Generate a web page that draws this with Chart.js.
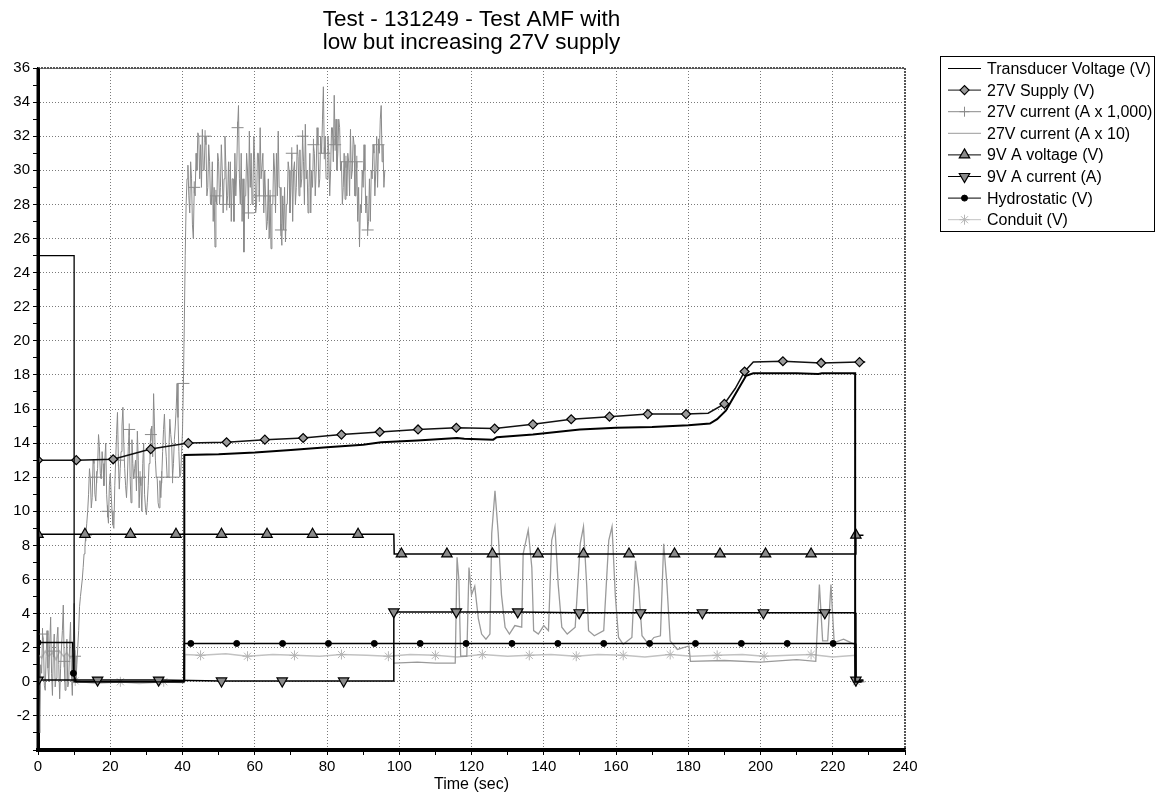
<!DOCTYPE html>
<html>
<head>
<meta charset="utf-8">
<title>Test - 131249 - Test AMF with low but increasing 27V supply</title>
<script src="https://cdn.jsdelivr.net/npm/chart.js@4.4.1/dist/chart.umd.min.js"></script>
<style>
  html, body { margin: 0; padding: 0; background: #fff; }
  #wrap { position: relative; width: 1159px; height: 802px; }
</style>
</head>
<body>
<div id="wrap"><canvas id="myChart" width="1159" height="802"></canvas></div>
<script>
// --- chart data ---
const chartTitle = ['Test - 131249 - Test AMF with', 'low but increasing 27V supply'];
const xAxisTitle = 'Time (sec)';

// Transducer Voltage (V)
const transducerTime = [0, 10, 10, 40.5, 40.5, 50, 60, 70, 80, 90, 95, 105, 116, 118, 126, 127, 137, 150, 160, 170, 180, 186, 188, 190.4, 193.1, 196, 198, 210, 216, 217, 226.2, 226.2, 228];
const transducerVolts = [25, 25, 0, 0, 13.3, 13.35, 13.45, 13.6, 13.75, 13.9, 14.05, 14.15, 14.3, 14.25, 14.2, 14.35, 14.5, 14.8, 14.9, 14.95, 15.05, 15.15, 15.4, 15.9, 16.9, 17.95, 18.1, 18.1, 18.05, 18.1, 18.1, 0, 0];

// 27V Supply (V)
const supplyTime = [0, 10.6, 20.8, 31.2, 41.6, 52.2, 62.8, 73.4, 84.0, 94.6, 105.2, 115.8, 126.4, 137.0, 147.6, 158.2, 168.8, 179.4, 185.5, 190.0, 193.0, 195.6, 198.0, 206.2, 216.8, 227.4, 229.0];
const supplyVolts = [13.0, 13.0, 13.05, 13.65, 14.0, 14.05, 14.2, 14.3, 14.5, 14.65, 14.8, 14.9, 14.85, 15.1, 15.4, 15.55, 15.7, 15.7, 15.75, 16.3, 17.2, 18.2, 18.75, 18.8, 18.7, 18.75, 18.75];
const supplyMarks = [0, 10.6, 20.8, 31.2, 41.6, 52.2, 62.8, 73.4, 84.0, 94.6, 105.2, 115.8, 126.4, 137.0, 147.6, 158.2, 168.8, 179.4, 190.0, 195.6, 206.2, 216.8, 227.4];

// 27V current (A x 1,000), sampled every 0.25 s from t = 0
const current1000Step = 0.25;
const current1000 = [
  1.5, -0.5, -3.0, 1.0, 0.5, 2.8, 2.5, -0.2,
  -0.5, 1.5, 3.0, 0.8, 0.0, 2.2, 3.8, 0.5,
  -0.8, 1.8, 2.8, -0.3, 0.2, 2.5, 3.2, 1.0,
  -1.0, 0.8, 2.0, 3.0, 4.5, 1.2, -0.5, 1.5,
  2.5, -0.3, 0.0, 2.2, 3.5, 0.5, -0.8, 1.8,
  4.6, 1.5, 0.0, 1.0, 2.0, 3.0, 4.4, 5.0,
  5.5, 6.0, 6.7, 7.5, 8.0, 8.6, 9.3, 10.0,
  11.0, 12.5, 11.9, 10.2, 10.8, 13.0, 12.8, 11.0,
  10.6, 12.0, 12.5, 14.5, 13.8, 12.2, 11.9, 13.5,
  12.8, 11.5, 13.0, 14.0, 11.0, 10.0, 9.3, 11.5,
  12.2, 11.0, 10.0, 9.2, 9.0, 11.5, 13.0, 14.5,
  15.8, 13.0, 11.3, 12.5, 13.5, 15.0, 16.1, 14.0,
  12.5, 11.5, 10.8, 12.0, 13.8, 14.8, 12.0, 10.5,
  14.2, 12.8, 11.9, 12.5, 13.0, 11.2, 14.7, 13.0,
  10.2, 12.0, 11.5, 10.0, 12.8, 14.0, 11.0, 10.2,
  9.8, 10.5, 11.5, 12.8, 13.8, 14.5, 15.0, 13.2,
  16.9, 15.0, 13.0, 12.0, 11.9, 10.5, 10.2, 11.8,
  10.8, 12.0, 13.5, 14.8, 15.7, 14.0, 13.2, 12.0,
  12.0, 13.8, 15.4, 14.5, 14.0, 12.0, 12.8, 14.2,
  15.0, 16.0, 17.5, 15.5, 13.5, 12.0, 12.2, 13.5,
  14.7, 17.5, 21.0, 25.0, 28.0, 29.5, 30.3, 28.5,
  27.5, 30.5, 29.5, 26.8, 26.0, 29.0, 28.5, 31.0,
  30.0, 32.2, 32.0, 29.5, 31.5, 29.0, 32.4, 30.0,
  30.0, 32.0, 31.5, 28.5, 29.0, 31.5, 30.5, 28.0,
  28.0, 30.5, 27.0, 29.0, 25.5, 28.5, 28.0, 31.0,
  30.5, 28.0, 29.0, 31.5, 30.0, 27.5, 29.5, 32.0,
  30.3, 28.0, 28.5, 30.5, 27.8, 30.5, 27.0, 29.5,
  29.5, 27.0, 31.0, 28.5, 30.0, 32.5, 33.8, 29.5,
  28.0, 31.0, 27.0, 29.5, 25.2, 28.5, 28.5, 31.0,
  30.0, 27.5, 32.3, 29.0, 31.0, 28.0, 29.0, 32.0,
  30.5, 27.5, 28.0, 31.0, 31.0, 28.5, 32.5, 29.5,
  29.5, 31.0, 27.5, 30.0, 28.5, 26.5, 27.0, 29.5,
  26.0, 28.5, 25.4, 28.0, 28.0, 31.0, 30.0, 27.5,
  31.0, 28.5, 32.3, 29.0, 29.0, 26.5, 25.6, 28.5,
  26.5, 29.0, 25.8, 28.0, 28.0, 30.5, 30.0, 27.5,
  29.0, 31.0, 27.0, 30.0, 30.5, 28.0, 29.0, 31.5,
  30.8, 28.5, 31.2, 29.0, 29.5, 32.0, 30.5, 28.0,
  32.7, 29.5, 30.0, 27.5, 29.0, 31.0, 27.5, 30.0,
  29.0, 31.5, 31.0, 28.5, 30.0, 32.5, 31.5, 29.0,
  29.5, 32.0, 31.0, 33.0, 34.9, 31.0, 32.0, 29.5,
  29.5, 32.0, 31.0, 28.5, 30.0, 32.5, 32.5, 30.5,
  34.4, 31.5, 33.0, 30.0, 31.0, 33.0, 32.5, 30.0,
  30.5, 28.0, 29.0, 31.0, 28.3, 30.5, 28.5, 31.0,
  30.5, 28.5, 32.4, 29.5, 30.0, 32.0, 31.5, 28.5,
  28.5, 30.5, 27.0, 29.0, 25.5, 28.0, 27.5, 30.0,
  29.0, 31.5, 30.0, 27.5, 28.5, 26.5, 27.0, 29.5,
  27.0, 30.0, 29.5, 31.5, 31.0, 28.5, 30.0, 32.0,
  29.0, 31.5, 31.0, 33.0, 33.8, 30.5, 31.5, 29.0,
  30.0
];

// 27V current (A x 10)
const current10Time = [98.5, 105, 110, 115.5, 116.0, 116.5, 117.0, 118.7, 119.3, 120.0, 120.9, 121.9, 122.8, 124.0, 125.1, 125.6, 126.5, 127.4, 128.3, 129.3, 130.5, 132.0, 133.9, 134.3, 135.7, 136.7, 137.2, 138.5, 140.0, 141.3, 142.2, 143.1, 144.0, 145.0, 146.5, 148.7, 150.1, 151.0, 151.9, 152.4, 154.0, 156.6, 158.0, 158.9, 159.8, 160.7, 162.0, 164.4, 165.4, 166.3, 167.2, 169.0, 170.5, 172.3, 173.2, 174.1, 175.0, 177.0, 180.2, 180.6, 190.0, 200.0, 210.0, 215.3, 216.3, 217.2, 218.6, 219.5, 220.4, 223.0, 226.0, 226.5, 228.5];
const current10 = [1.1, 1.15, 1.1, 1.1, 7.3, 6.0, 1.5, 1.5, 6.7, 5.1, 5.6, 3.7, 2.8, 2.5, 2.8, 8.7, 11.2, 8.7, 5.1, 3.2, 2.8, 3.3, 3.2, 7.5, 8.9, 6.7, 3.0, 2.8, 3.3, 3.0, 8.3, 9.1, 5.7, 3.2, 2.8, 3.2, 8.1, 9.1, 5.6, 3.0, 2.7, 3.0, 8.3, 9.1, 5.1, 2.6, 2.2, 2.6, 7.1, 5.5, 2.7, 2.2, 2.6, 2.7, 8.1, 5.7, 2.4, 1.9, 2.1, 1.2, 1.25, 1.15, 1.3, 1.2, 5.7, 2.4, 2.4, 5.7, 2.3, 2.5, 2.2, 0.0, 0.0];

// 9V A voltage (V)
const nineVoltTime = [0, 13.0, 25.6, 38.2, 50.8, 63.4, 76.0, 88.6, 98.5, 98.6, 100.6, 113.2, 125.8, 138.4, 151.0, 163.6, 176.2, 188.8, 201.4, 214.0, 226.2, 226.4, 228.5];
const nineVolt = [8.65, 8.65, 8.65, 8.65, 8.65, 8.65, 8.65, 8.65, 8.65, 7.5, 7.5, 7.5, 7.5, 7.5, 7.5, 7.5, 7.5, 7.5, 7.5, 7.5, 7.5, 8.6, 8.6];
const nineVoltMarks = [0, 13.0, 25.6, 38.2, 50.8, 63.4, 76.0, 88.6, 100.6, 113.2, 125.8, 138.4, 151.0, 163.6, 176.2, 188.8, 201.4, 214.0, 226.4];

// 9V A current (A)
const nineAmpTime = [0, 16.5, 33.4, 50.8, 67.6, 84.6, 98.4, 98.5, 115.8, 132.8, 149.8, 166.8, 183.9, 200.8, 217.8, 226.2, 226.4, 228.5];
const nineAmp = [0.1, 0.1, 0.1, 0.05, 0.05, 0.05, 0.05, 4.1, 4.1, 4.1, 4.05, 4.05, 4.05, 4.05, 4.05, 4.05, 0.1, 0.1];
const nineAmpMarks = [0, 16.5, 33.4, 50.8, 67.6, 84.6, 98.5, 115.8, 132.8, 149.8, 166.8, 183.9, 200.8, 217.8, 226.4];

// Hydrostatic (V)
const hydroTime = [0, 9.6, 9.8, 10.5, 40.4, 40.5, 42.3, 55.0, 67.7, 80.4, 93.1, 105.8, 118.5, 131.2, 143.9, 156.6, 169.3, 182.0, 194.7, 207.4, 220.1, 226.2, 226.4, 228.5];
const hydro = [2.3, 2.3, 0.5, 0.0, 0.0, 2.25, 2.25, 2.25, 2.25, 2.25, 2.25, 2.25, 2.25, 2.25, 2.25, 2.25, 2.25, 2.25, 2.25, 2.25, 2.25, 2.25, 0.05, 0.05];
const hydroMarks = [0, 9.8, 42.3, 55.0, 67.7, 80.4, 93.1, 105.8, 118.5, 131.2, 143.9, 156.6, 169.3, 182.0, 194.7, 207.4, 220.1];

// Conduit (V)
const conduitTime = [0, 1, 2, 3, 4, 5, 6, 7, 8, 9, 10.0, 10.3, 16, 22.8, 28, 34.8, 40.4, 40.6, 45.0, 52, 58.0, 65, 71.0, 78, 84.0, 91, 97.0, 103, 110.0, 116, 123.0, 130, 136.0, 142, 149.0, 155, 162.0, 168, 175.0, 181, 188.0, 195, 201.0, 208, 214.0, 220, 226.3, 226.6, 229.0];
const conduit = [1.6, 1.4, 1.8, 1.5, 1.7, 1.3, 1.8, 1.5, 1.7, 1.4, 1.6, 0.05, -0.1, 0.0, -0.1, 0.0, -0.05, 1.6, 1.55, 1.65, 1.5, 1.6, 1.55, 1.5, 1.6, 1.55, 1.5, 1.6, 1.55, 1.45, 1.6, 1.5, 1.55, 1.6, 1.5, 1.6, 1.55, 1.45, 1.6, 1.5, 1.55, 1.6, 1.5, 1.55, 1.6, 1.45, 1.55, 0.0, 0.0];
const conduitMarks = [10.3, 22.8, 34.8, 45.0, 58.0, 71.0, 84.0, 97.0, 110.0, 123.0, 136.0, 149.0, 162.0, 175.0, 188.0, 201.0, 214.0, 226.6];

// --- helpers ---
const FONT = '"Liberation Sans", Arial, Helvetica, sans-serif';
Chart.defaults.font.family = FONT;
Chart.defaults.color = '#000';

function toPoints(times, values) {
    return times.map((t, i) => ({ x: t, y: values[i] }));
}

function markerSizes(times, marks, r) {
    return times.map(t => marks.includes(t) ? r : 0);
}

const current1000Time = current1000.map((v, i) => i * current1000Step);

// Legend box drawn in the top-right corner, line sample + marker + label
const boxLegend = {
    id: 'boxLegend',
    afterDraw(chart) {
        const ctx = chart.ctx;
        ctx.save();
        ctx.strokeStyle = '#000';
        ctx.lineWidth = 1;
        ctx.strokeRect(940.5, 56.5, 214, 175);
        ctx.font = '16px ' + FONT;
        ctx.textBaseline = 'middle';
        chart.data.datasets.forEach((ds, i) => {
            const y = 68.5 + i * 21.6;
            ctx.setLineDash([]);
            ctx.strokeStyle = ds.borderColor;
            ctx.lineWidth = 1;
            ctx.beginPath();
            ctx.moveTo(948, y);
            ctx.lineTo(981, y);
            ctx.stroke();
            if (ds.legendRadius) {
                ctx.fillStyle = ds.pointBackgroundColor;
                ctx.strokeStyle = ds.pointBorderColor;
                ctx.lineWidth = ds.pointBorderWidth;
                Chart.helpers.drawPoint(ctx, {
                    pointStyle: ds.pointStyle,
                    rotation: ds.pointRotation || 0,
                    radius: ds.legendRadius,
                    borderWidth: ds.pointBorderWidth
                }, 964.5, y);
            }
            ctx.fillStyle = '#000';
            ctx.fillText(ds.label, 987, y + 1);
        });
        ctx.restore();
    }
};

// Axis lines and dotted frame on top of the data
const plotFrame = {
    id: 'plotFrame',
    afterDatasetsDraw(chart) {
        const { ctx, chartArea: a } = chart;
        ctx.save();
        ctx.strokeStyle = '#555';
        ctx.lineWidth = 2;
        ctx.setLineDash([2, 1]);
        ctx.beginPath();
        ctx.moveTo(a.left, a.top);
        ctx.lineTo(a.right, a.top);
        ctx.lineTo(a.right, a.bottom);
        ctx.stroke();
        ctx.setLineDash([]);
        ctx.strokeStyle = '#000';
        ctx.lineWidth = 3;
        ctx.beginPath();
        ctx.moveTo(a.left, a.top);
        ctx.lineTo(a.left, a.bottom);
        ctx.stroke();
        ctx.lineWidth = 4;
        ctx.beginPath();
        ctx.moveTo(a.left - 1.5, a.bottom);
        ctx.lineTo(a.right, a.bottom);
        ctx.stroke();
        ctx.restore();
    }
};

const gridColor = '#7a7a7a';

const config = {
    type: 'line',
    data: {
        datasets: [
            {
                label: 'Transducer Voltage (V)',
                data: toPoints(transducerTime, transducerVolts),
                borderColor: '#000',
                borderWidth: 2,
                segment: { borderWidth: (c) => c.p0.parsed.x < 40 ? 1.3 : 2 },
                pointRadius: 0,
                order: 0
            },
            {
                label: '27V Supply (V)',
                data: toPoints(supplyTime, supplyVolts),
                borderColor: '#111',
                borderWidth: 1.5,
                pointStyle: 'rectRot',
                pointRadius: markerSizes(supplyTime, supplyMarks, 4.5),
                pointBackgroundColor: '#9a9a9a',
                pointBorderColor: '#000',
                pointBorderWidth: 1.2,
                legendRadius: 4.5,
                order: 1
            },
            {
                label: '27V current (A x 1,000)',
                data: toPoints(current1000Time, current1000),
                borderColor: '#8a8a8a',
                borderWidth: 1,
                pointStyle: 'cross',
                pointRadius: current1000.map((v, i) => i % 12 === 5 ? 6 : 0),
                pointBackgroundColor: '#8a8a8a',
                pointBorderColor: '#8a8a8a',
                pointBorderWidth: 1,
                legendRadius: 5,
                order: 6
            },
            {
                label: '27V current (A x 10)',
                data: toPoints(current10Time, current10),
                borderColor: '#9a9a9a',
                borderWidth: 1.3,
                pointRadius: 0,
                order: 5
            },
            {
                label: '9V A voltage (V)',
                data: toPoints(nineVoltTime, nineVolt),
                borderColor: '#000',
                borderWidth: 1.5,
                pointStyle: 'triangle',
                pointRadius: markerSizes(nineVoltTime, nineVoltMarks, 6),
                pointBackgroundColor: '#8a8a8a',
                pointBorderColor: '#000',
                pointBorderWidth: 1.2,
                legendRadius: 6,
                order: 2
            },
            {
                label: '9V A current (A)',
                data: toPoints(nineAmpTime, nineAmp),
                borderColor: '#000',
                borderWidth: 1.5,
                pointStyle: 'triangle',
                pointRotation: 180,
                rotation: 180,
                pointRadius: markerSizes(nineAmpTime, nineAmpMarks, 6),
                pointBackgroundColor: '#8a8a8a',
                pointBorderColor: '#000',
                pointBorderWidth: 1.2,
                legendRadius: 6,
                order: 3
            },
            {
                label: 'Hydrostatic (V)',
                data: toPoints(hydroTime, hydro),
                borderColor: '#000',
                borderWidth: 1.5,
                pointStyle: 'circle',
                pointRadius: markerSizes(hydroTime, hydroMarks, 3),
                pointBackgroundColor: '#000',
                pointBorderColor: '#000',
                pointBorderWidth: 1,
                legendRadius: 3,
                order: 4
            },
            {
                label: 'Conduit (V)',
                data: toPoints(conduitTime, conduit),
                borderColor: '#c2c2c2',
                borderWidth: 1.5,
                pointStyle: 'star',
                pointRadius: markerSizes(conduitTime, conduitMarks, 5),
                pointBackgroundColor: '#c2c2c2',
                pointBorderColor: '#b5b5b5',
                pointBorderWidth: 1,
                legendRadius: 5,
                order: 7
            }
        ]
    },
    options: {
        responsive: false,
        animation: false,
        events: [],
        devicePixelRatio: 1,
        layout: { padding: { left: 0, right: 254, top: 0, bottom: 4 } },
        elements: { line: { tension: 0 }, point: { hoverRadius: 0 } },
        scales: {
            x: {
                type: 'linear',
                min: 0,
                max: 240,
                afterFit: (s) => { s.height = 48; },
                ticks: {
                    stepSize: 10,
                    autoSkip: false,
                    maxRotation: 0,
                    padding: 3,
                    color: '#000',
                    font: { size: 15 },
                    callback: (v) => v % 20 === 0 ? v : ''
                },
                grid: {
                    color: (c) => (c.tick && c.tick.value % 20 === 0) ? gridColor : 'rgba(0,0,0,0)',
                    tickColor: '#000',
                    tickLength: 5,
                    lineWidth: 1
                },
                border: { color: '#000', width: 4, dash: [1, 2] },
                title: {
                    display: true,
                    text: xAxisTitle,
                    color: '#000',
                    font: { size: 16 },
                    padding: { top: 0, bottom: 4 }
                }
            },
            y: {
                min: -4,
                max: 36,
                afterFit: (s) => { s.width = 38; },
                ticks: {
                    stepSize: 1,
                    autoSkip: false,
                    padding: 3,
                    color: '#000',
                    font: { size: 15 },
                    callback: (v) => (v % 2 === 0 && v > -4) ? v : ''
                },
                grid: {
                    color: (c) => (c.tick && c.tick.value % 2 === 0) ? gridColor : 'rgba(0,0,0,0)',
                    tickColor: '#000',
                    tickLength: 5,
                    lineWidth: 1
                },
                border: { color: '#000', width: 3, dash: [1, 2] }
            }
        },
        plugins: {
            legend: { display: false },
            tooltip: { enabled: false },
            title: {
                display: true,
                text: chartTitle,
                color: '#000',
                fullSize: false,
                font: { size: 22.5, weight: 'normal', lineHeight: 1.0 },
                padding: { top: 9, bottom: 14 }
            }
        }
    },
    plugins: [plotFrame, boxLegend]
};

const ctx = document.getElementById('myChart').getContext('2d');
const myChart = new Chart(ctx, config);
</script>
</body>
</html>
